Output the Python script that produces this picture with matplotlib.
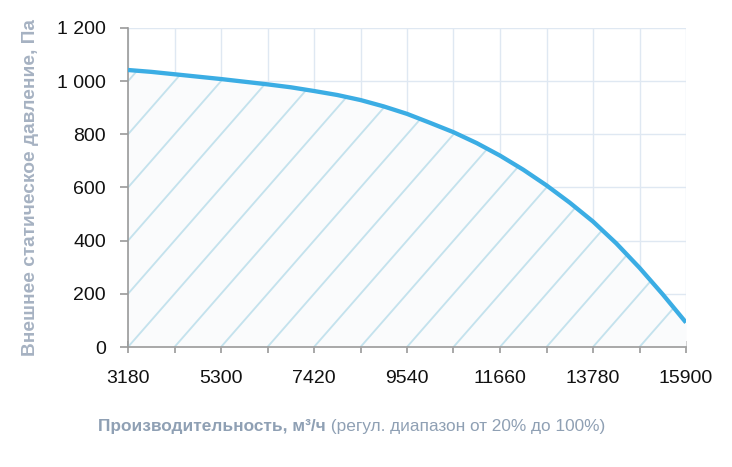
import matplotlib
matplotlib.use("Agg")
import matplotlib.pyplot as plt
from matplotlib.offsetbox import TextArea, HPacker, AnchoredOffsetbox

# ---- data ----
flow = [3180, 3710, 4240, 4770, 5300, 5830, 6360, 6890, 7420, 7950, 8480, 9010,
        9540, 10070, 10600, 11130, 11660, 12190, 12720, 13250, 13780, 14310,
        14840, 15370, 15900]
pressure = [1042, 1035, 1026, 1017, 1008, 998, 988, 977, 963, 948, 929, 905,
            877, 843, 808, 767, 720, 667, 608, 543, 472, 390, 298, 198, 92]
x_major = [3180, 5300, 7420, 9540, 11660, 13780, 15900]
x_minor = [4240, 6360, 8480, 10600, 12720, 14840]
y_ticks = [0, 200, 400, 600, 800, 1000, 1200]
y_ticklabels = ["0", "200", "400", "600", "800", "1 000", "1 200"]

tick_font = "Liberation Sans"

fig = plt.figure(figsize=(7.32, 4.67), dpi=100)
ax = fig.add_axes([128/732, 1 - 347/467, 558/732, 319/467])

ax.set_xlim(3180, 15900)
ax.set_ylim(0, 1200)

# grid
grid_c = "#dfe8f2"
ax.set_xticks(x_major)
ax.set_xticks(x_minor, minor=True)
ax.set_yticks(y_ticks)
ax.set_yticklabels(y_ticklabels)
ax.grid(True, which="both", color=grid_c, linewidth=1.0, zorder=0)
ax.set_axisbelow(True)

# fill under curve
poly = ax.fill_between(flow, pressure, 0, color="#fafbfc", linewidth=0, zorder=1)

# hatch lines following grid intersections
step_x = 1060
clip_path = poly.get_paths()[0]
for k in range(-7, 13):
    x0 = 3180 + step_x * k
    ln, = ax.plot([x0, x0 + step_x * 6], [0, 1200], color="#c4e2ed", linewidth=1.35,
                  zorder=2, solid_capstyle="butt")
    ln.set_clip_path(clip_path, ax.transData)

# curve
ax.plot(flow, pressure, color="#3badE4", linewidth=3.1, zorder=3,
        solid_capstyle="butt", solid_joinstyle="round")

# spines
for s in ["top", "right"]:
    ax.spines[s].set_visible(False)
for s in ["left", "bottom"]:
    ax.spines[s].set_color("#9a9a9a")
    ax.spines[s].set_linewidth(1.2)

ax.tick_params(axis="x", which="both", direction="inout", length=9, width=1.2, color="#9a9a9a",
               labelsize=14, pad=12, labelcolor="#111111")
ax.tick_params(axis="y", which="both", direction="out", length=6, width=1.2, color="#9a9a9a",
               labelsize=14, pad=10, labelcolor="#111111")
for lab in ax.get_xticklabels() + ax.get_yticklabels():
    lab.set_fontfamily(tick_font)

# y label
fig.text(31/732, 1 - 188/467, "Внешнее статическое давление, Па", rotation=90,
         ha="center", va="center", fontsize=13.8, fontweight="bold",
         color="#a6b2c2", family="Liberation Sans")

# x label (bold part + regular part)
lab_c = "#8fa0b4"
t1 = TextArea("Производительность, м³/ч",
              textprops=dict(color=lab_c, fontsize=12.4, fontweight="bold", family=tick_font))
t2 = TextArea(" (регул. диапазон от 20% до 100%)",
              textprops=dict(color=lab_c, fontsize=12.4, family=tick_font))
box = HPacker(children=[t1, t2], align="baseline", pad=0, sep=0)
anch = AnchoredOffsetbox(loc="center", child=box, pad=0, frameon=False,
                         bbox_to_anchor=(352/732, 1 - 426/467),
                         bbox_transform=fig.transFigure, borderpad=0)
fig.add_artist(anch)

fig.savefig("out.png", dpi=100)
